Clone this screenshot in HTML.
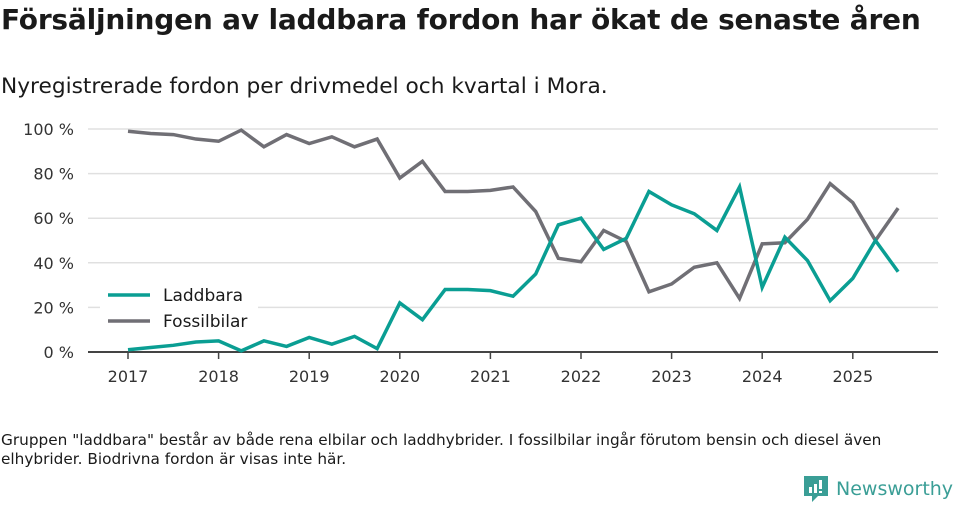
<!DOCTYPE html>
<html><head><meta charset="utf-8"><style>
body{margin:0;width:960px;height:505px;background:#fff;font-family:"DejaVu Sans","Liberation Sans",sans-serif;color:#1a1a1a;position:relative;overflow:hidden}
#title{position:absolute;left:1px;top:3px;font-size:28px;font-weight:bold;margin:0;letter-spacing:-0.2px}
#sub{position:absolute;left:1px;top:74px;font-size:21.7px}
#foot{position:absolute;left:1px;top:431px;font-size:15.3px;line-height:19px;width:905px}
#logo{position:absolute;left:804px;top:476px;display:flex;align-items:center}
</style></head><body>
<h1 id="title">Försäljningen av laddbara fordon har ökat de senaste åren</h1>
<div id="sub">Nyregistrerade fordon per drivmedel och kvartal i Mora.</div>
<svg id="chart" width="960" height="420" style="position:absolute;left:0;top:0"></svg>
<div id="foot">Gruppen "laddbara" består av både rena elbilar och laddhybrider. I fossilbilar ingår förutom bensin och diesel även elhybrider. Biodrivna fordon är visas inte här.</div>
<div id="logo">
<svg width="24" height="26"><path d="M0 0H24V20H14L8 26V20H0Z" fill="#3a9e96"/><rect x="5" y="11" width="3" height="6" fill="#fff"/><rect x="10" y="8" width="3" height="9" fill="#fff"/><rect x="15" y="4" width="3" height="9" fill="#fff"/><rect x="15" y="15" width="3" height="2" fill="#fff"/></svg>
<span style="color:#3a9e96;font-size:19px;margin-left:8px">Newsworthy</span></div>
<script>
const years=[2017,2018,2019,2020,2021,2022,2023,2024,2025];
const yTicks=[0,20,40,60,80,100];
const laddbara=[1,2,3,4.5,5,0.5,5,2.5,6.5,3.5,7,1.5,22,14.5,28,28,27.5,25,35,57,60,46,51,72,66,62,54.5,74,29,51.5,41,23,33,50,36];
const fossil=[99,98,97.5,95.5,94.5,99.5,92,97.5,93.5,96.5,92,95.5,78,85.5,72,72,72.5,74,63,42,40.5,54.5,49.5,27,30.5,38,40,24,48.5,49,59.5,75.5,67,50,64.5];
const svg=document.getElementById('chart');const NS='http://www.w3.org/2000/svg';
const X=t=>128+(t-2017)*90.6;const Y=v=>352-v*2.23;
function mk(tag,a){const e=document.createElementNS(NS,tag);for(const k in a)e.setAttribute(k,a[k]);svg.appendChild(e);return e;}
yTicks.forEach(v=>{
 const g=mk('line',{x1:88,x2:938,y1:Y(v),y2:Y(v),stroke:v?'#e0e0e0':'#444','stroke-width':v?1.5:2});
 
 
 const t=mk('text',{x:74,y:Y(v)+6,'text-anchor':'end','font-size':16,fill:'#333'});t.textContent=v+' %';
 
 
});
years.forEach(y=>{
 const l=mk('line',{x1:X(y),x2:X(y),y1:352,y2:359,stroke:'#444','stroke-width':1.5});
 
 
 const t=mk('text',{x:X(y),y:382,'text-anchor':'middle','font-size':16,fill:'#333'});t.textContent=y;
 
 
});
function series(d,c,n){const p=mk('polyline',{points:d.map((v,i)=>X(2017+i/4)+','+Y(v)).join(' '),fill:'none',stroke:c,'stroke-width':3.5,'stroke-linejoin':'miter'});
 
 }
series(fossil,'#706f75','fossilbilar-line');
series(laddbara,'#0a9e93','laddbara-line');
const bg=mk('rect',{x:100,y:282,width:158,height:56,fill:'#fff'});


[['Laddbara','#0a9e93',295],['Fossilbilar','#706f75',321]].forEach(([n,c,y])=>{
 const l=mk('line',{x1:108,x2:150,y1:y,y2:y,stroke:c,'stroke-width':3.5});
 
 
 const t=mk('text',{x:163,y:y+6,'font-size':17,fill:'#1a1a1a'});t.textContent=n;
 
 
});
</script>
</body></html>
